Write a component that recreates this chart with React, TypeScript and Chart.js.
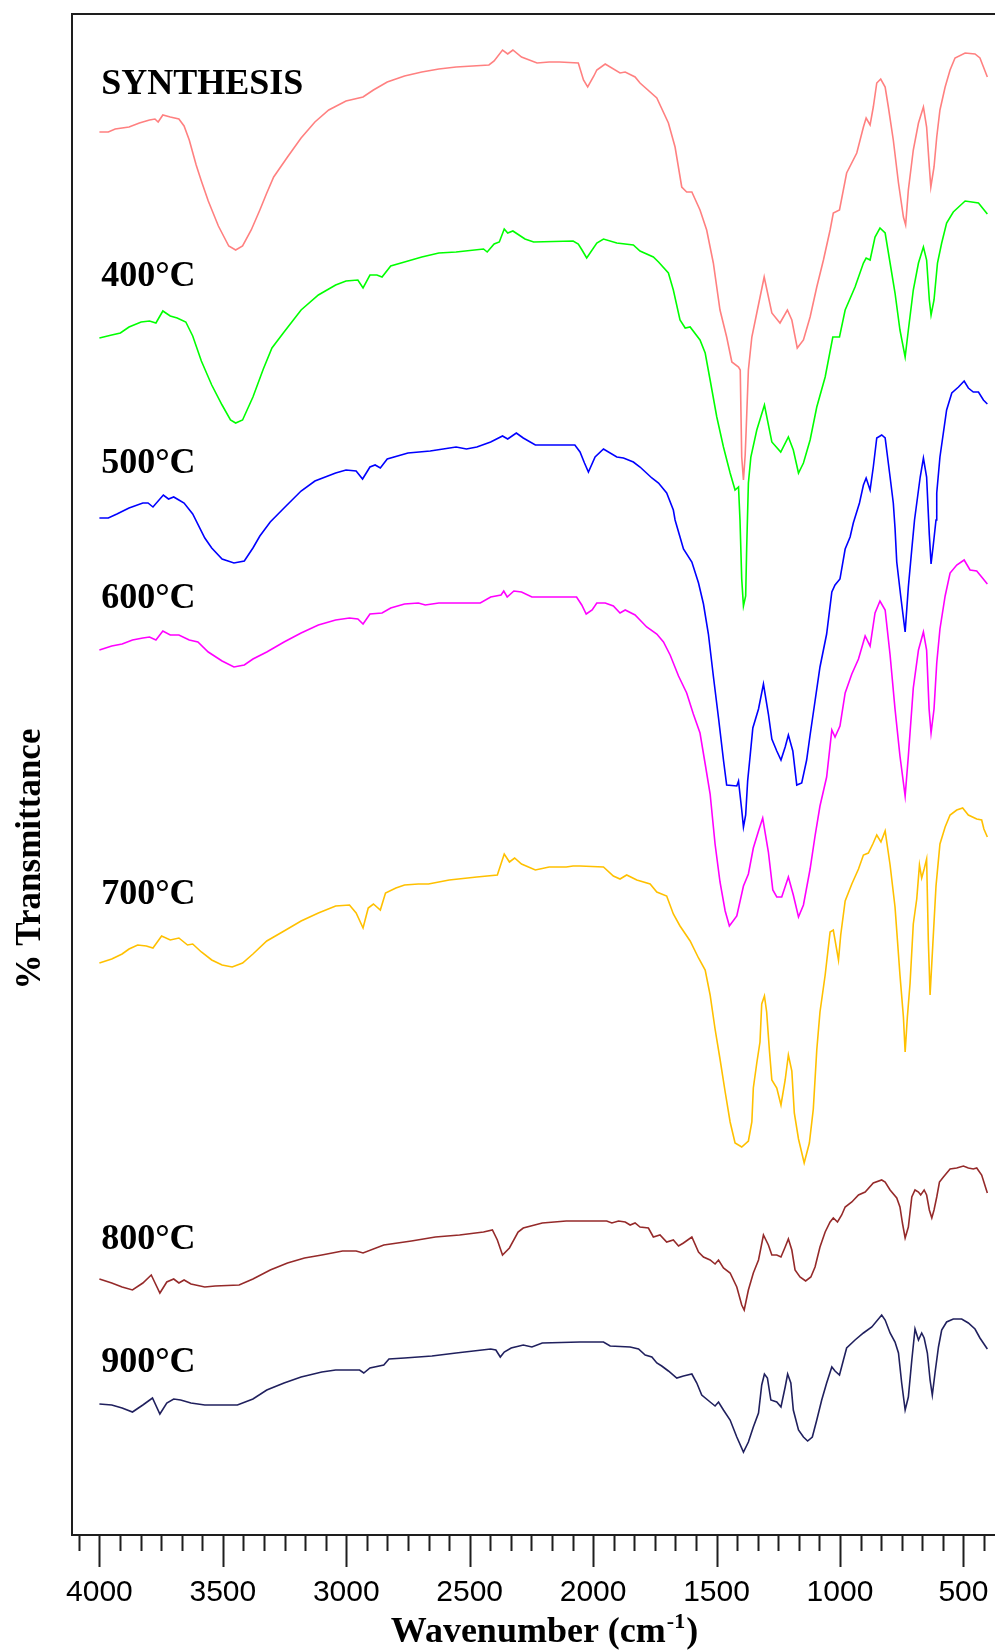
import React, { useEffect, useRef } from "react";
import { Chart, registerables } from "chart.js";

Chart.register(...registerables);

const W = 995;
const H = 1651;

// FTIR spectra, stacked with vertical offsets (wavenumber cm-1, % transmittance + offset)
const seriesNames = ["SYNTHESIS", "400°C", "500°C", "600°C", "700°C", "800°C", "900°C"];
const seriesColors = ["#ff8080", "#00ff00", "#0000ff", "#ff00ff", "#ffc000", "#952a2a", "#20205e"];
const labelLevels = [144.1, 124.9, 106.2, 92.7, 63.1, 28.6, 16.3];
const labelWavenumber = 3993;
const xTickValues = [4000, 3500, 3000, 2500, 2000, 1500, 1000, 500];

const synthesis: [number, number][] = [
  [4000, 140.3], [3964, 140.3], [3936, 140.6], [3880, 140.8], [3838, 141.2], [3797, 141.5], [3775, 141.6],
  [3762, 141.3], [3743, 142.0], [3713, 141.8], [3678, 141.6], [3657, 140.9], [3636, 139.5], [3608, 137.0],
  [3587, 135.4], [3559, 133.4], [3518, 130.9], [3476, 128.9], [3448, 128.5], [3420, 128.9], [3385, 130.5],
  [3350, 132.5], [3322, 134.2], [3294, 135.8], [3238, 137.8], [3183, 139.7], [3127, 141.3], [3071, 142.5],
  [3001, 143.4], [2932, 143.8], [2890, 144.5], [2834, 145.3], [2764, 145.9], [2694, 146.3], [2625, 146.6],
  [2555, 146.8], [2422, 147.0], [2401, 147.4], [2367, 148.5], [2346, 148.1], [2325, 148.5], [2290, 147.8],
  [2227, 147.2], [2178, 147.3], [2136, 147.3], [2060, 147.2], [2039, 145.5], [2022, 144.8], [1997, 145.9],
  [1985, 146.5], [1951, 147.1], [1891, 146.2], [1870, 146.3], [1830, 145.8], [1810, 145.2], [1742, 143.7],
  [1695, 141.2], [1668, 138.8], [1641, 134.8], [1621, 134.3], [1600, 134.3], [1567, 132.5], [1540, 130.5],
  [1513, 127.2], [1486, 122.5], [1459, 119.8], [1438, 117.3], [1411, 116.8], [1404, 116.5], [1398, 107.8],
  [1391, 105.5], [1384, 108.0], [1380, 110.5], [1371, 116.5], [1357, 119.8], [1337, 122.2], [1307, 125.8],
  [1276, 122.2], [1243, 121.2], [1213, 122.5], [1195, 121.5], [1173, 118.7], [1148, 119.5], [1121, 121.8],
  [1094, 124.8], [1067, 127.5], [1040, 130.5], [1027, 132.2], [1002, 132.5], [973, 136.2], [932, 138.2],
  [905, 140.8], [894, 141.7], [878, 141.0], [865, 142.8], [851, 145.2], [835, 145.6], [817, 144.8],
  [804, 142.8], [784, 139.5], [763, 135.2], [743, 131.8], [734, 131.0], [723, 134.5], [703, 138.5],
  [682, 141.2], [662, 142.8], [649, 140.8], [638, 136.8], [632, 134.8], [619, 136.8], [608, 139.8],
  [595, 142.5], [574, 144.8], [554, 146.5], [534, 147.7], [493, 148.2], [453, 148.1], [433, 147.7], [403, 145.8],
];

const t400: [number, number][] = [
  [4000, 119.7], [3950, 120.0], [3915, 120.2], [3880, 120.8], [3831, 121.3], [3797, 121.4], [3771, 121.2],
  [3743, 122.4], [3713, 121.9], [3685, 121.7], [3650, 121.3], [3622, 119.9], [3587, 117.4], [3545, 115.0],
  [3503, 113.0], [3469, 111.5], [3448, 111.2], [3420, 111.5], [3378, 113.8], [3336, 116.6], [3301, 118.7],
  [3252, 120.3], [3183, 122.5], [3113, 124.0], [3043, 125.0], [3001, 125.4], [2953, 125.5], [2932, 124.7],
  [2904, 126.0], [2876, 126.0], [2855, 125.8], [2820, 126.9], [2764, 127.3], [2694, 127.8], [2625, 128.2],
  [2555, 128.3], [2444, 128.6], [2429, 128.3], [2401, 129.1], [2380, 129.3], [2360, 130.6], [2346, 130.2],
  [2325, 130.4], [2276, 129.6], [2241, 129.3], [2081, 129.4], [2060, 129.1], [2045, 128.5], [2026, 127.7],
  [1985, 129.2], [1958, 129.6], [1904, 129.2], [1837, 129.0], [1810, 128.4], [1756, 127.8], [1735, 127.3],
  [1695, 126.2], [1675, 124.5], [1648, 121.5], [1627, 120.7], [1607, 120.8], [1567, 119.5], [1546, 118.2],
  [1526, 115.5], [1499, 111.8], [1472, 108.8], [1445, 106.2], [1425, 104.5], [1411, 104.8], [1405, 101.5],
  [1398, 95.6], [1391, 92.9], [1382, 93.9], [1378, 98.6], [1371, 105.2], [1361, 107.8], [1337, 110.5],
  [1306, 113.0], [1276, 109.3], [1240, 108.3], [1209, 109.8], [1189, 108.5], [1168, 106.2], [1148, 107.2],
  [1121, 109.5], [1094, 112.8], [1060, 115.8], [1029, 119.8], [1002, 119.8], [979, 122.5], [939, 124.8],
  [905, 127.2], [894, 127.7], [878, 127.5], [858, 129.8], [838, 130.7], [817, 130.2], [797, 127.2],
  [777, 124.2], [757, 120.5], [736, 117.8], [723, 120.5], [703, 124.5], [682, 127.2], [662, 128.8],
  [649, 127.5], [638, 123.5], [631, 122.0], [619, 123.5], [605, 127.2], [588, 129.2], [568, 131.2],
  [541, 132.3], [493, 133.4], [439, 133.2], [403, 132.1],
];

const t500: [number, number][] = [
  [4000, 101.7], [3964, 101.7], [3929, 102.1], [3880, 102.7], [3824, 103.2], [3803, 103.2], [3783, 102.8],
  [3741, 104.0], [3720, 103.6], [3699, 103.8], [3678, 103.5], [3657, 103.2], [3622, 102.1], [3573, 99.7],
  [3545, 98.7], [3503, 97.6], [3455, 97.2], [3413, 97.4], [3378, 98.7], [3350, 99.9], [3308, 101.3],
  [3252, 102.7], [3183, 104.4], [3127, 105.4], [3043, 106.2], [3001, 106.5], [2960, 106.4], [2934, 105.6],
  [2904, 106.8], [2883, 107.0], [2862, 106.7], [2834, 107.6], [2778, 108.0], [2750, 108.2], [2660, 108.4],
  [2555, 108.8], [2513, 108.6], [2471, 108.8], [2415, 109.3], [2367, 109.9], [2346, 109.6], [2311, 110.2],
  [2283, 109.7], [2234, 109.0], [2074, 109.0], [2053, 108.3], [2035, 107.2], [2019, 106.3], [1992, 107.8],
  [1958, 108.6], [1904, 107.8], [1877, 107.7], [1837, 107.3], [1810, 106.8], [1762, 105.7], [1735, 105.2],
  [1702, 104.2], [1675, 102.5], [1668, 101.5], [1648, 99.8], [1634, 98.6], [1600, 97.3], [1573, 95.2],
  [1553, 93.1], [1533, 90.1], [1513, 85.9], [1492, 81.7], [1472, 77.5], [1459, 75.0], [1418, 74.9],
  [1411, 75.4], [1398, 72.5], [1391, 70.8], [1382, 72.0], [1374, 75.4], [1364, 77.9], [1353, 80.7],
  [1330, 82.6], [1310, 85.1], [1290, 82.1], [1276, 79.6], [1256, 78.4], [1239, 77.5], [1222, 78.8],
  [1209, 80.0], [1191, 78.4], [1175, 75.0], [1155, 75.2], [1135, 77.5], [1121, 80.0], [1101, 83.4],
  [1081, 86.8], [1054, 90.1], [1033, 94.3], [1020, 95.0], [1000, 95.6], [979, 98.6], [959, 99.8],
  [946, 101.2], [921, 103.2], [905, 105.0], [894, 105.7], [878, 104.5], [865, 106.8], [851, 109.7],
  [831, 110.0], [817, 109.7], [797, 105.8], [784, 103.2], [777, 100.7], [770, 97.3], [754, 93.9],
  [736, 90.3], [723, 94.8], [709, 98.6], [698, 101.5], [675, 105.8], [662, 107.7], [649, 105.8],
  [638, 100.0], [631, 97.1], [622, 99.0], [611, 101.5], [608, 104.2], [595, 107.8], [568, 112.5],
  [547, 114.2], [520, 114.8], [497, 115.4], [480, 114.7], [460, 114.3], [439, 114.3], [419, 113.5], [403, 113.1],
];

const t600: [number, number][] = [
  [4000, 88.5], [3950, 88.9], [3908, 89.1], [3866, 89.5], [3824, 89.7], [3797, 89.8], [3771, 89.5],
  [3743, 90.4], [3713, 90.0], [3678, 90.0], [3636, 89.5], [3601, 89.3], [3559, 88.3], [3503, 87.4],
  [3455, 86.8], [3413, 87.0], [3378, 87.6], [3322, 88.3], [3252, 89.3], [3183, 90.2], [3113, 91.0],
  [3043, 91.5], [2987, 91.7], [2953, 91.6], [2932, 91.1], [2904, 92.1], [2855, 92.2], [2820, 92.7],
  [2764, 93.1], [2708, 93.2], [2680, 93.0], [2625, 93.2], [2457, 93.2], [2415, 93.8], [2373, 94.0],
  [2362, 94.4], [2348, 93.8], [2321, 94.4], [2290, 94.3], [2248, 93.8], [2192, 93.8], [2067, 93.8],
  [2046, 93.0], [2028, 92.1], [2004, 92.5], [1985, 93.2], [1951, 93.2], [1918, 92.9], [1891, 92.2],
  [1870, 92.5], [1830, 92.0], [1783, 90.8], [1742, 90.1], [1715, 89.3], [1688, 88.0], [1654, 85.9],
  [1621, 84.2], [1594, 82.1], [1567, 80.2], [1546, 77.1], [1526, 74.1], [1506, 69.1], [1486, 65.3],
  [1465, 62.4], [1448, 60.9], [1418, 61.9], [1391, 64.9], [1371, 66.1], [1351, 68.7], [1330, 70.4],
  [1313, 71.7], [1290, 68.3], [1272, 64.5], [1256, 63.8], [1236, 63.8], [1209, 65.8], [1189, 64.0],
  [1168, 61.8], [1148, 63.0], [1121, 66.6], [1101, 69.9], [1081, 72.9], [1054, 75.8], [1033, 80.5],
  [1020, 79.8], [1000, 80.9], [979, 84.2], [952, 86.1], [925, 87.6], [898, 89.9], [878, 88.9],
  [858, 92.2], [838, 93.4], [817, 92.5], [797, 88.0], [777, 82.6], [757, 77.9], [736, 73.9],
  [723, 77.9], [703, 84.7], [682, 88.5], [662, 90.3], [649, 88.5], [639, 82.6], [631, 80.2],
  [619, 82.6], [608, 87.2], [595, 90.6], [574, 93.9], [554, 96.2], [527, 97.0], [497, 97.5],
  [473, 96.5], [446, 96.4], [426, 95.8], [403, 95.1],
];

const t700: [number, number][] = [
  [4000, 57.2], [3950, 57.6], [3908, 58.1], [3880, 58.6], [3845, 59.0], [3810, 58.9], [3783, 58.7],
  [3748, 59.9], [3713, 59.5], [3678, 59.7], [3643, 59.0], [3622, 59.1], [3587, 58.3], [3545, 57.5],
  [3503, 57.0], [3462, 56.8], [3420, 57.2], [3378, 58.1], [3322, 59.4], [3252, 60.4], [3183, 61.4],
  [3113, 62.2], [3043, 62.9], [2987, 63.0], [2960, 62.2], [2932, 60.7], [2911, 62.7], [2890, 63.1],
  [2862, 62.5], [2841, 64.2], [2799, 64.7], [2764, 65.0], [2708, 65.1], [2667, 65.1], [2583, 65.5],
  [2471, 65.8], [2388, 66.0], [2360, 68.1], [2339, 67.3], [2318, 67.7], [2290, 67.1], [2234, 66.5],
  [2178, 66.8], [2109, 66.8], [2081, 66.9], [2053, 66.9], [1958, 66.8], [1918, 65.9], [1891, 65.6],
  [1864, 66.0], [1823, 65.5], [1769, 65.1], [1742, 64.3], [1702, 63.9], [1675, 62.1], [1648, 60.9],
  [1607, 59.4], [1573, 57.7], [1546, 56.5], [1526, 54.0], [1506, 50.6], [1486, 47.6], [1465, 44.3],
  [1445, 41.3], [1425, 39.2], [1398, 38.8], [1371, 39.4], [1357, 41.3], [1351, 44.7], [1337, 47.2],
  [1324, 49.3], [1317, 53.1], [1306, 53.9], [1297, 52.3], [1286, 48.5], [1276, 45.5], [1256, 44.7],
  [1239, 43.0], [1222, 45.5], [1209, 48.0], [1195, 46.4], [1185, 42.2], [1168, 39.6], [1145, 37.2],
  [1124, 39.2], [1108, 42.6], [1094, 48.5], [1081, 52.3], [1060, 56.0], [1040, 60.3], [1027, 60.5],
  [1006, 57.5], [997, 60.0], [979, 63.4], [952, 65.1], [925, 66.6], [905, 68.0], [885, 68.2],
  [867, 69.1], [851, 70.0], [834, 69.3], [817, 70.4], [797, 67.0], [777, 62.8], [757, 56.0], [743, 51.8],
  [736, 48.3], [727, 51.8], [716, 55.2], [703, 61.1], [689, 63.6], [678, 67.0], [669, 65.7],
  [659, 66.6], [649, 67.6], [642, 59.4], [635, 54.0], [624, 59.0], [611, 64.9], [595, 69.1],
  [574, 70.8], [554, 72.0], [527, 72.5], [503, 72.7], [480, 72.0], [446, 71.6], [426, 71.5],
  [417, 70.6], [403, 69.8],
];

const t800: [number, number][] = [
  [4000, 25.6], [3950, 25.2], [3908, 24.8], [3866, 24.5], [3824, 25.2], [3790, 26.0], [3755, 24.2],
  [3727, 25.3], [3699, 25.6], [3678, 25.2], [3657, 25.5], [3629, 25.1], [3573, 24.8], [3531, 24.9],
  [3434, 25.0], [3378, 25.6], [3308, 26.5], [3238, 27.2], [3169, 27.7], [3099, 28.0], [3015, 28.4],
  [2960, 28.4], [2932, 28.2], [2848, 29.0], [2736, 29.4], [2639, 29.8], [2541, 30.0], [2444, 30.3],
  [2408, 30.5], [2388, 29.5], [2367, 28.0], [2339, 28.7], [2304, 30.3], [2283, 30.7], [2206, 31.2],
  [2109, 31.4], [2053, 31.4], [1945, 31.4], [1924, 31.2], [1897, 31.4], [1870, 31.3], [1850, 31.0],
  [1830, 31.2], [1810, 30.8], [1776, 30.7], [1756, 29.8], [1729, 30.0], [1702, 29.3], [1675, 29.5],
  [1654, 28.9], [1634, 29.2], [1600, 29.8], [1573, 28.3], [1553, 27.8], [1526, 27.5], [1506, 27.1],
  [1492, 27.5], [1472, 26.7], [1445, 26.2], [1418, 24.8], [1398, 23.0], [1388, 22.5], [1371, 24.5],
  [1351, 26.2], [1330, 27.5], [1310, 30.0], [1290, 29.0], [1276, 28.0], [1256, 28.0], [1239, 27.8],
  [1222, 28.8], [1209, 29.6], [1195, 28.5], [1182, 26.5], [1162, 25.8], [1139, 25.4], [1118, 25.8],
  [1101, 26.8], [1081, 28.8], [1060, 30.3], [1040, 31.3], [1027, 31.7], [1010, 31.3], [993, 32.0],
  [979, 32.8], [952, 33.3], [925, 34.0], [898, 34.3], [865, 35.2], [831, 35.5], [817, 35.3],
  [797, 34.5], [770, 33.7], [757, 32.8], [747, 31.2], [736, 29.7], [723, 30.8], [709, 33.8],
  [696, 34.5], [682, 34.3], [673, 34.0], [659, 34.5], [649, 34.0], [638, 32.5], [628, 31.7],
  [619, 32.5], [608, 33.8], [597, 35.3], [581, 35.8], [554, 36.6], [527, 36.7], [500, 36.9],
  [480, 36.7], [460, 36.6], [446, 36.7], [426, 36.0], [403, 34.2],
];

const t900: [number, number][] = [
  [4000, 13.1], [3950, 13.0], [3908, 12.7], [3866, 12.3], [3824, 13.0], [3785, 13.7], [3755, 12.1],
  [3727, 13.2], [3699, 13.6], [3671, 13.5], [3629, 13.2], [3573, 13.0], [3441, 13.0], [3378, 13.6],
  [3322, 14.5], [3252, 15.2], [3183, 15.8], [3099, 16.3], [3043, 16.5], [2946, 16.5], [2929, 16.2],
  [2904, 16.7], [2848, 17.0], [2827, 17.6], [2764, 17.7], [2653, 17.9], [2555, 18.2], [2415, 18.6],
  [2394, 18.5], [2376, 17.8], [2360, 18.3], [2332, 18.7], [2283, 19.0], [2248, 18.8], [2206, 19.2],
  [2053, 19.3], [1958, 19.3], [1931, 18.9], [1850, 18.8], [1816, 18.6], [1789, 18.0], [1762, 17.8],
  [1742, 17.2], [1722, 16.9], [1695, 16.4], [1661, 15.7], [1634, 15.9], [1600, 16.1], [1580, 15.2],
  [1560, 14.0], [1526, 13.3], [1506, 12.9], [1492, 13.3], [1472, 12.5], [1445, 11.5], [1418, 9.8],
  [1391, 8.3], [1371, 9.3], [1351, 10.8], [1330, 12.2], [1317, 15.0], [1306, 16.1], [1294, 15.7],
  [1280, 13.5], [1256, 13.3], [1239, 12.8], [1222, 14.8], [1212, 16.1], [1199, 15.2], [1189, 12.5],
  [1168, 10.5], [1148, 9.8], [1131, 9.4], [1112, 9.8], [1094, 11.5], [1074, 13.5], [1054, 15.2],
  [1033, 16.8], [1020, 16.4], [1002, 16.0], [986, 17.5], [973, 18.7], [939, 19.5], [905, 20.2],
  [871, 20.8], [831, 22.0], [817, 21.5], [797, 20.2], [777, 19.3], [763, 18.2], [750, 15.2],
  [736, 12.5], [723, 13.8], [709, 17.5], [696, 20.6], [682, 19.5], [669, 20.2], [659, 19.7],
  [646, 18.2], [635, 15.5], [626, 14.0], [615, 16.2], [601, 18.8], [588, 20.5], [568, 21.3],
  [541, 21.6], [507, 21.6], [480, 21.2], [453, 20.6], [433, 19.7], [403, 18.6],
];

const spectra = [synthesis, t400, t500, t600, t700, t800, t900];

const X_MIN = 372;
const X_MAX = 4111;
const Y_MIN = 0;
const Y_MAX = 152.1;

const INK = "#1e1e1e";
const SERIF = "'Liberation Serif', 'Times New Roman', serif";

// frame, tick marks, axis titles and spectrum labels
const decorPlugin = {
  id: "irDecor",
  afterDraw(chart: any) {
    const { ctx, chartArea: a, scales } = chart;
    const x = scales.x;
    const y = scales.y;
    ctx.save();

    // top edge of the plot frame
    ctx.strokeStyle = INK;
    ctx.lineWidth = 2;
    ctx.beginPath();
    ctx.moveTo(a.left - 1, a.top);
    ctx.lineTo(a.right, a.top);
    ctx.stroke();

    // major and minor tick marks below the axis line
    const step = (xTickValues[0] - xTickValues[1]) / 6;
    ctx.lineWidth = 2;
    ctx.beginPath();
    for (let k = -1; ; k++) {
      const v = xTickValues[0] - k * step;
      if (v < X_MIN) break;
      if (v > X_MAX) continue;
      const px = Math.round(x.getPixelForValue(v)) + 0.5;
      const major = ((k % 6) + 6) % 6 === 0;
      ctx.moveTo(px, a.bottom + 1);
      ctx.lineTo(px, a.bottom + (major ? 32 : 16));
    }
    ctx.stroke();

    // x axis title with superscript
    ctx.fillStyle = "#000";
    ctx.textBaseline = "alphabetic";
    ctx.textAlign = "left";
    const mainFont = `bold 36px ${SERIF}`;
    const supFont = `bold 22px ${SERIF}`;
    ctx.font = mainFont;
    const part1 = "Wavenumber (cm";
    const part3 = ")";
    const w1 = ctx.measureText(part1).width;
    const w3 = ctx.measureText(part3).width;
    ctx.font = supFont;
    const sup = "-1";
    const w2 = ctx.measureText(sup).width;
    const total = w1 + w2 + w3;
    const cx = (a.left + a.right) / 2 + 10;
    const base = a.bottom + 107;
    let sx = cx - total / 2;
    ctx.font = mainFont;
    ctx.fillText(part1, sx, base);
    sx += w1;
    ctx.font = supFont;
    ctx.fillText(sup, sx + 1, base - 14);
    sx += w2 + 2;
    ctx.font = mainFont;
    ctx.fillText(part3, sx, base);

    // y axis title
    ctx.save();
    ctx.translate(a.left - 32, a.top + 845);
    ctx.rotate(-Math.PI / 2);
    ctx.textAlign = "center";
    ctx.font = `bold 35px ${SERIF}`;
    ctx.fillText("% Transmittance", 0, 0);
    ctx.restore();

    // spectrum labels
    ctx.font = `bold 36px ${SERIF}`;
    ctx.textAlign = "left";
    const lx = x.getPixelForValue(labelWavenumber);
    seriesNames.forEach((name, i) => {
      ctx.fillText(name, lx, y.getPixelForValue(labelLevels[i]));
    });

    ctx.restore();
  },
};

export default function App() {
  const canvasRef = useRef<HTMLCanvasElement | null>(null);

  useEffect(() => {
    const canvas = canvasRef.current;
    if (!canvas) return;

    const datasets = spectra.map((pts, i) => ({
      label: seriesNames[i],
      data: pts.map(([wn, t]) => ({ x: wn, y: t })),
      borderColor: seriesColors[i],
      backgroundColor: seriesColors[i],
      borderWidth: 1.6,
      pointRadius: 0,
      tension: 0,
      fill: false,
    }));

    const chart = new Chart(canvas, {
      type: "line",
      data: { datasets },
      options: {
        responsive: false,
        maintainAspectRatio: false,
        devicePixelRatio: 1,
        animation: false,
        events: [],
        layout: { autoPadding: false, padding: { top: 14, left: 0, right: 0, bottom: 0 } },
        plugins: {
          legend: { display: false },
          tooltip: { enabled: false },
          title: { display: false },
        },
        scales: {
          x: {
            type: "linear",
            reverse: true,
            min: X_MIN,
            max: X_MAX,
            grid: { display: false },
            border: { display: true, color: INK, width: 2 },
            ticks: {
              autoSkip: false,
              maxRotation: 0,
              padding: 32,
              color: "#000",
              font: { family: "'Liberation Sans', Arial, sans-serif", size: 30 },
              callback: (v: any) => String(v),
            },
            afterBuildTicks: (scale: any) => {
              scale.ticks = xTickValues.map((v) => ({ value: v }));
            },
            afterFit: (scale: any) => {
              scale.height = H - 1535;
              scale.paddingLeft = 0;
              scale.paddingRight = 0;
            },
          },
          y: {
            type: "linear",
            min: Y_MIN,
            max: Y_MAX,
            grid: { display: false },
            border: { display: true, color: INK, width: 2 },
            ticks: { display: false },
            afterFit: (scale: any) => {
              scale.width = 72;
              scale.paddingTop = 0;
              scale.paddingBottom = 0;
            },
          },
        },
      },
      plugins: [decorPlugin],
    } as any);

    return () => chart.destroy();
  }, []);

  return (
    <div style={{ position: "absolute", left: 0, top: 0, width: W, height: H, background: "#fff" }}>
      <canvas ref={canvasRef} width={W} height={H} style={{ display: "block", width: W, height: H }} />
    </div>
  );
}
